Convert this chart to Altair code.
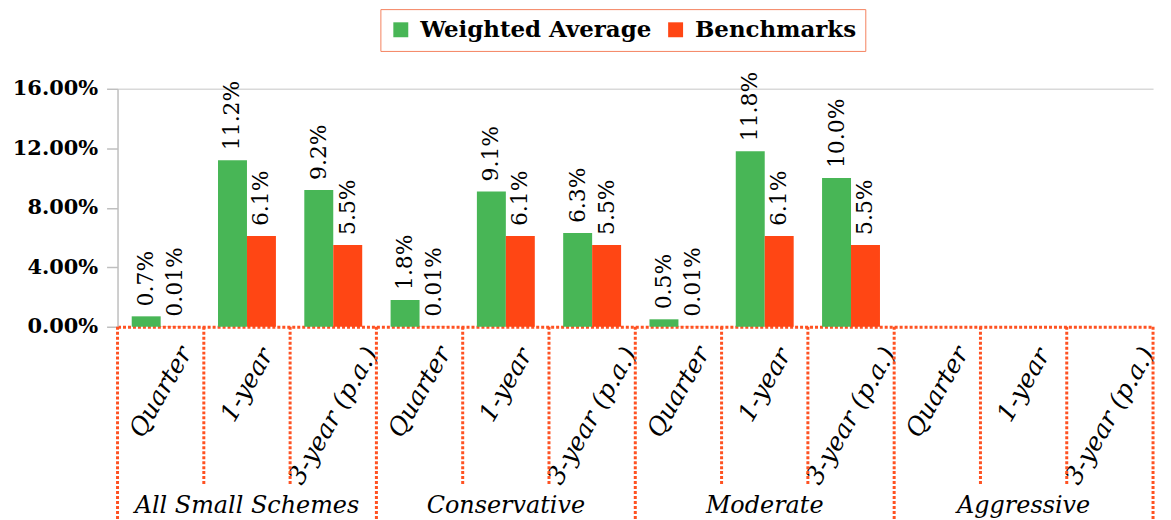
import altair as alt
import pandas as pd

# ---------------- data ----------------
groups = ["All Small Schemes", "Conservative", "Moderate", "Aggressive"]
periods = ["Quarter", "1-year", "3-year (p.a.)"]
series = ["Weighted Average", "Benchmarks"]
weighted = [0.7, 11.2, 9.2, 1.8, 9.1, 6.3, 0.5, 11.8, 10.0, None, None, None]
bench = [0.01, 6.1, 5.5, 0.01, 6.1, 5.5, 0.01, 6.1, 5.5, None, None, None]
y_ticks = [0, 4, 8, 12, 16]

# ---------------- styles ----------------
colors = ["#48B656", "#FF4614"]
ORANGE = "#FF5222"
SERIF = "DejaVu Serif"
W, H = 1040, 239

keys = [f"{g}|{p}" for g in groups for p in periods]
rows = []
for i, k in enumerate(keys):
    g, p = k.split("|")
    for s, vals in zip(series, [weighted, bench]):
        v = vals[i]
        if v is None:
            continue
        lab = f"{v:.2f}%" if v < 0.05 else f"{v:.1f}%"
        rows.append(dict(key=k, group=g, period=p, series=s, value=v, label=lab))
bars_df = pd.DataFrame(rows)
cats_df = pd.DataFrame([{"key": k, "group": k.split("|")[0], "period": k.split("|")[1]} for k in keys])

xscale = alt.Scale(domain=keys, paddingInner=0, paddingOuter=0)
x_axis = alt.Axis(
    title=None,
    labelExpr="split(datum.value, '|')[1]",
    labelAngle=-60,
    labelAlign="center",
    labelBaseline="middle",
    labelFont=SERIF,
    labelFontStyle="italic",
    labelFontSize=25,
    labelColor="black",
    labelPadding={
        "condition": [
            {"test": "indexof(datum.value, '3-year') >= 0", "value": 89},
            {"test": "indexof(datum.value, '1-year') >= 0", "value": 58},
        ],
        "value": 65,
    },
    labelOverlap=False,
    labelLimit=400,
    ticks=False,
    tickSize=0,
    domainColor=ORANGE,
    domainDash=[3, 2],
    domainWidth=3,
    grid=False,
)
yscale = alt.Scale(domain=[0, 16], nice=False)
y_axis = alt.Axis(
    title=None,
    values=y_ticks,
    labelExpr="format(datum.value, '.2f') + '%'",
    labelFont=SERIF,
    labelFontSize=21,
    labelFontWeight="bold",
    labelColor="black",
    labelPadding=9,
    tickSize=11,
    tickColor="#BFBFBF",
    tickWidth=1.5,
    domainColor="#BFBFBF",
    domainWidth=1.5,
    grid=True,
    gridColor="#D9D9D9",
    gridWidth=1.5,
    gridOpacity={"condition": {"test": "datum.value == 16", "value": 1}, "value": 0},
)

X = alt.X("key:N", scale=xscale, axis=x_axis, sort=keys)
XO = alt.XOffset("series:N", sort=series, scale=alt.Scale(domain=series, paddingInner=0, paddingOuter=0.49))

bars = alt.Chart(bars_df).mark_bar().encode(
    x=X,
    xOffset=XO,
    y=alt.Y("value:Q", scale=yscale, axis=y_axis),
    color=alt.Color(
        "series:N",
        scale=alt.Scale(domain=series, range=colors),
        legend=alt.Legend(
            title=None,
            orient="none",
            legendX=264,
            legendY=-80,
            direction="horizontal",
            labelFont=SERIF,
            labelFontSize=23,
            labelFontWeight="bold",
            labelColor="black",
            symbolType="square",
            symbolSize=225,
            symbolStrokeWidth=0,
            labelOffset=8,
            columnPadding=12,
            padding=9,
            strokeColor="#F4825F",
            fillColor="white",
            labelLimit=400,
        ),
    ),
)

labels = alt.Chart(bars_df).mark_text(
    angle=270, align="left", baseline="middle", dx=10,
    font=SERIF, fontSize=22, color="black",
).encode(
    x=X,
    xOffset=XO,
    y=alt.Y("value:Q", scale=yscale, axis=y_axis),
    text="label:N",
)

rule_style = dict(color=ORANGE, strokeDash=[3, 2], strokeWidth=3)
short_rules = alt.Chart(cats_df).transform_filter(alt.datum.period != "Quarter").mark_rule(**rule_style).encode(
    x=alt.X("key:N", scale=xscale, axis=x_axis, sort=keys, bandPosition=0),
    y=alt.value(H), y2=alt.value(397),
)
long_rules = alt.Chart(cats_df).transform_filter(alt.datum.period == "Quarter").mark_rule(**rule_style).encode(
    x=alt.X("key:N", scale=xscale, axis=x_axis, sort=keys, bandPosition=0),
    y=alt.value(H), y2=alt.value(450),
)
end_rule = alt.Chart(cats_df).transform_filter(alt.datum.key == keys[-1]).mark_rule(**rule_style).encode(
    x=alt.X("key:N", scale=xscale, axis=x_axis, sort=keys, bandPosition=1),
    y=alt.value(H), y2=alt.value(450),
)

group_labels = alt.Chart(cats_df).transform_filter(alt.datum.period == "1-year").mark_text(
    font=SERIF, fontStyle="italic", fontSize=24, color="black", align="center", baseline="alphabetic",
).encode(
    x=alt.X("key:N", scale=xscale, axis=x_axis, sort=keys),
    y=alt.value(426),
    text="group:N",
)

chart = alt.layer(short_rules, long_rules, end_rule, bars, labels, group_labels).properties(
    width=W, height=H,
    autosize=alt.AutoSizeParams(type="none"),
    padding={"left": 110, "top": 80, "right": 10, "bottom": 200},
).configure_view(stroke=None)

chart.save("out.html", embed_options={"renderer": "svg", "actions": False})
